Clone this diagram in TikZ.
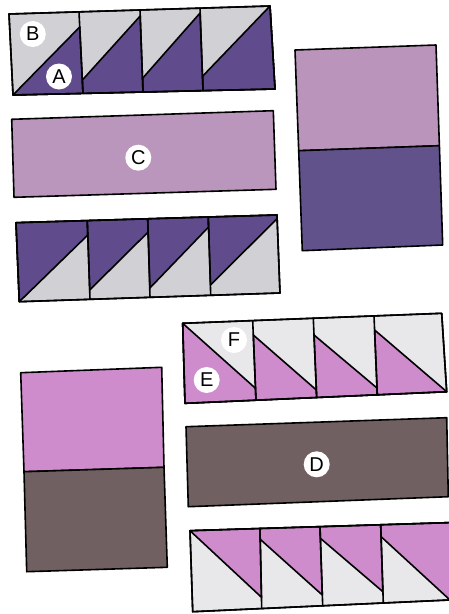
\documentclass[tikz,border=0pt]{standalone}
\usepackage{fontspec}
\setsansfont{Liberation Sans}
\definecolor{hstgray}{RGB}{208,208,213}
\definecolor{hstpurple}{RGB}{96,76,140}
\definecolor{mauve}{RGB}{187,150,188}
\definecolor{panelmauve}{RGB}{186,148,186}
\definecolor{panelpurple}{RGB}{98,82,140}
\definecolor{pinkfab}{RGB}{206,140,204}
\definecolor{lightfab}{RGB}{232,232,235}
\definecolor{brownfab}{RGB}{112,96,97}
\tikzset{
  piece/.style={draw=black, line width=1.6pt, line join=round},
  seam/.style={draw=black, line width=1.6pt},
  tag/.style={circle, fill=white, inner sep=0pt, minimum size=26pt,
              font=\sffamily\fontsize{20}{20}\selectfont}
}
\begin{document}
\begin{tikzpicture}[x=1pt,y=-1pt]
\clip (0,0) rectangle (449,614);
\fill[white] (0,0) rectangle (449,614);

% ---- Row 1: B / A half-square triangles
\filldraw[piece, fill=hstgray] (9,14) -- (270,6) -- (275,89) -- (13,95) -- cycle;
\filldraw[piece, fill=hstpurple] (13,95) -- (79.7,27) -- (83,93.4) -- cycle;
\filldraw[piece, fill=hstpurple] (82.4,80) -- (140.2,16) -- (143,92) -- (83,93.4) -- cycle;
\filldraw[piece, fill=hstpurple] (142.8,78) -- (200.1,13) -- (203,90.6) -- (143,92) -- cycle;
\filldraw[piece, fill=hstpurple] (202.8,76) -- (270,6) -- (275,89) -- (203,90.6) -- cycle;
\draw[seam] (79,11.9) -- (83,93.4);
\draw[seam] (140,10) -- (143,92);
\draw[seam] (200,8.1) -- (203,90.6);
\draw[piece] (9,14) -- (270,6) -- (275,89) -- (13,95) -- cycle;
\node[tag] (tagB) at (32.8,34) {B};
\node[tag] (tagA) at (59,76.5) {A};

% ---- C strip
\filldraw[piece, fill=mauve] (11.7,119.3) -- (273.3,110.7) -- (276,189.3) -- (14,197.3) -- cycle;
\node[tag] (tagC) at (138.3,157.7) {C};

% ---- Row 3: purple / gray
\filldraw[piece, fill=hstgray] (16,222.7) -- (277,215) -- (280,293) -- (19.3,301.7) -- cycle;
\filldraw[piece, fill=hstpurple] (16,222.7) -- (87.3,220.6) -- (87.8,235) -- (19.3,301.7) -- cycle;
\filldraw[piece, fill=hstpurple] (87.3,220.6) -- (147.7,218.8) -- (148.2,232) -- (89.7,290) -- cycle;
\filldraw[piece, fill=hstpurple] (147.7,218.8) -- (208.3,217) -- (208.6,227) -- (149.9,288) -- cycle;
\filldraw[piece, fill=hstpurple] (208.3,217) -- (277,215) -- (277.2,218.5) -- (210.5,285) -- cycle;
\draw[seam] (87.3,220.6) -- (90,299.3);
\draw[seam] (147.7,218.8) -- (150,297.3);
\draw[seam] (208.3,217) -- (210.7,295.3);
\draw[piece] (16,222.7) -- (277,215) -- (280,293) -- (19.3,301.7) -- cycle;

% ---- Right panel: mauve over purple
\filldraw[piece, fill=panelmauve] (295,50) -- (436,45) -- (439.4,145.7) -- (298.7,150.7) -- cycle;
\filldraw[piece, fill=panelpurple] (298.7,150.7) -- (439.4,145.7) -- (442.7,245) -- (302.3,250.7) -- cycle;

% ---- Row E / F
\filldraw[piece, fill=lightfab] (182.7,323.3) -- (441.7,313.3) -- (446.7,391.7) -- (185,403.3) -- cycle;
\filldraw[piece, fill=pinkfab] (182.7,323.3) -- (255.5,388.3) -- (256,400.2) -- (185,403.3) -- cycle;
\filldraw[piece, fill=pinkfab] (253.3,335) -- (316.4,390) -- (316.7,397.5) -- (256,400.2) -- cycle;
\filldraw[piece, fill=pinkfab] (314,335) -- (377,388) -- (377.3,394.8) -- (316.7,397.5) -- cycle;
\filldraw[piece, fill=pinkfab] (374.6,330) -- (446.7,391.7) -- (377.3,394.8) -- cycle;
\draw[seam] (252.7,320.6) -- (256,400.2);
\draw[seam] (313.3,318.3) -- (316.7,397.5);
\draw[seam] (374,315.9) -- (377.3,394.8);
\draw[piece] (182.7,323.3) -- (441.7,313.3) -- (446.7,391.7) -- (185,403.3) -- cycle;
\node[tag] (tagF) at (234,340) {F};
\node[tag] (tagE) at (206.7,380) {E};

% ---- D strip
\filldraw[piece, fill=brownfab] (186,426.7) -- (446.7,417.7) -- (448.3,496.7) -- (188.3,506.7) -- cycle;
\node[tag] (tagD) at (316.7,464.3) {D};

% ---- Left panel: pink over brown
\filldraw[piece, fill=pinkfab] (20.7,372.7) -- (161.7,367.3) -- (164,467.3) -- (24,471.7) -- cycle;
\filldraw[piece, fill=brownfab] (24,471.7) -- (164,467.3) -- (167.3,567.3) -- (26.7,571.7) -- cycle;

% ---- Bottom row: pink / light
\filldraw[piece, fill=lightfab] (190,530.7) -- (460,522.3) -- (460,599.5) -- (192.7,611.7) -- cycle;
\filldraw[piece, fill=pinkfab] (190,530.7) -- (260,528.5) -- (261.5,597.3) -- cycle;
\filldraw[piece, fill=pinkfab] (260,528.5) -- (320,526.7) -- (322.3,595) -- (260.2,539.3) -- cycle;
\filldraw[piece, fill=pinkfab] (320,526.7) -- (380.7,524.8) -- (382.9,591.7) -- (320.4,538.3) -- cycle;
\filldraw[piece, fill=pinkfab] (380.7,524.8) -- (460,522.3) -- (460,599.5) -- (450,600) -- (381.1,536.7) -- cycle;
\draw[seam] (260,528.5) -- (261.7,608.5);
\draw[seam] (320,526.7) -- (322.7,605.8);
\draw[seam] (380.7,524.8) -- (383.3,603);
\draw[piece] (190,530.7) -- (460,522.3) -- (460,599.5) -- (192.7,611.7) -- cycle;
\end{tikzpicture}
\end{document}
